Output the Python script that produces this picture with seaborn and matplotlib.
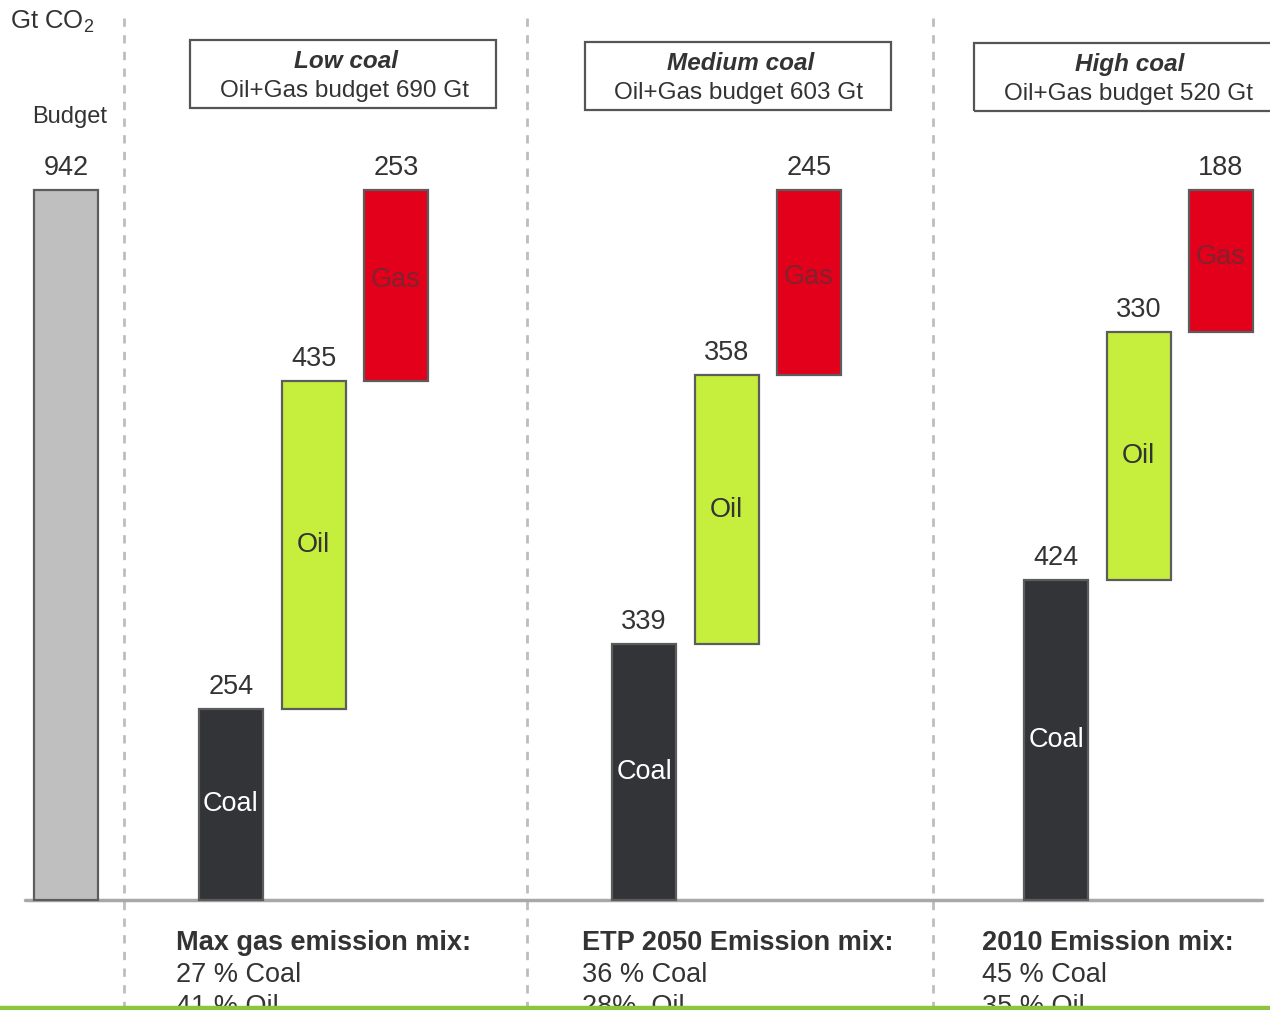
import matplotlib
matplotlib.use("Agg")
import matplotlib.pyplot as plt
from matplotlib.patches import Rectangle
import seaborn as sns

# Carbon budget (Gt CO2) and its split by fuel in three coal scenarios
budget_total = 942
scenarios = ["Low coal", "Medium coal", "High coal"]
oil_gas_budget = [690, 603, 520]
coal = [254, 339, 424]
oil = [435, 358, 330]
gas = [253, 245, 188]
mix_titles = ["Max gas emission mix:", "ETP 2050 Emission mix:", "2010 Emission mix:"]
coal_share = ["27 % Coal", "36 % Coal", "45 % Coal"]
oil_share = ["41 % Oil", "28%  Oil", "35 % Oil"]

sns.set_theme(style="white")
plt.rcParams["font.family"] = ["Liberation Sans", "DejaVu Sans"]
plt.rcParams["mathtext.default"] = "regular"

W, H = 1270, 1010
BASE = 900                      # baseline row in pixels
K = 710 / budget_total          # pixels per Gt

fig = plt.figure(figsize=(W / 100, H / 100), dpi=100)
ax = fig.add_axes([0, 0, 1, 1])
ax.set_xlim(0, W)
ax.set_ylim(-(H - BASE) / K, BASE / K)
ax.axis("off")


def yv(py):
    """Vertical pixel row -> value units."""
    return (BASE - py) / K


PAD = 9 / K
BAR_W = 64
EDGE = "#5c5c5c"
C_COAL, C_OIL, C_GAS, C_BUD = "#333438", "#c6ef3d", "#e2001a", "#bfbfbf"
NUM_FS = 19.5
TXT = "#333333"

# budget bar
ax.bar(66, budget_total, width=BAR_W, color=C_BUD, edgecolor=EDGE, linewidth=1.6, zorder=3)
ax.text(66, budget_total + PAD, f"{budget_total}", ha="center", va="bottom",
        fontsize=NUM_FS, color=TXT)
ax.text(70, yv(117), "Budget", ha="center", va="center", fontsize=17, color=TXT)
ax.text(10, yv(22), r"Gt CO$_2$", ha="left", va="center", fontsize=18.5, color=TXT)

group_centers = [313.5, 726.5, 1138.5]
step = 82.5
# vertical placement of the fuel name inside each bar (fraction of bar height)
name_pos = {"Coal": 0.5, "Oil": 0.5, "Gas": 0.53}

for i, gc in enumerate(group_centers):
    xs = [gc - step, gc, gc + step]
    bottoms = [0, coal[i], coal[i] + oil[i]]
    heights = [coal[i], oil[i], gas[i]]
    colors = [C_COAL, C_OIL, C_GAS]
    names = ["Coal", "Oil", "Gas"]
    txt_colors = ["white", TXT, "#80222f"]
    for x, b, h, c, n, tc in zip(xs, bottoms, heights, colors, names, txt_colors):
        ax.bar(x, h, bottom=b, width=BAR_W, color=c, edgecolor=EDGE, linewidth=1.6, zorder=3)
        ax.text(x, b + h + PAD, f"{h}", ha="center", va="bottom",
                fontsize=NUM_FS, color=TXT, zorder=4)
        ax.text(x, b + h * name_pos[n], n, ha="center", va="center",
                fontsize=19.5, color=tc, zorder=4)

    # scenario header box
    bx0 = [190, 585, 974][i]
    by0 = [40, 42, 43][i]
    ax.add_patch(Rectangle((bx0, yv(by0 + 68)), 306, 68 / K, fill=False,
                           edgecolor="#555555", linewidth=1.6, clip_on=False, zorder=3))
    ax.text(bx0 + 156, yv(by0 + 21), scenarios[i], ha="center", va="center",
            fontsize=17.5, fontweight="bold", fontstyle="italic", color=TXT)
    ax.text(bx0 + 154, yv(by0 + 51), f"Oil+Gas budget {oil_gas_budget[i]} Gt",
            ha="center", va="center", fontsize=17.5, color=TXT)

    # emission mix notes under the baseline
    tx = [176, 582, 982][i]
    ax.text(tx, yv(943), mix_titles[i], ha="left", va="center",
            fontsize=19.5, fontweight="bold", color=TXT)
    ax.text(tx, yv(975), coal_share[i], ha="left", va="center",
            fontsize=19.5, color=TXT)
    ax.text(tx, yv(1007), oil_share[i], ha="left", va="center",
            fontsize=19.5, color=TXT)

# scenario separators
for sx in [124, 527, 933]:
    ax.plot([sx, sx], [yv(18), yv(1010)], color="#bdbdbd", linewidth=2,
            linestyle=(0, (3, 3)), zorder=1)

# baseline
ax.plot([25, 1262], [0, 0], color="#a8a8a8", linewidth=2.5, zorder=2)

# footer rule
ax.plot([0, W], [yv(1007.8), yv(1007.8)], color="#8cc63f", linewidth=3.2,
        solid_capstyle="butt", zorder=6)

fig.savefig("out.png", dpi=100)
